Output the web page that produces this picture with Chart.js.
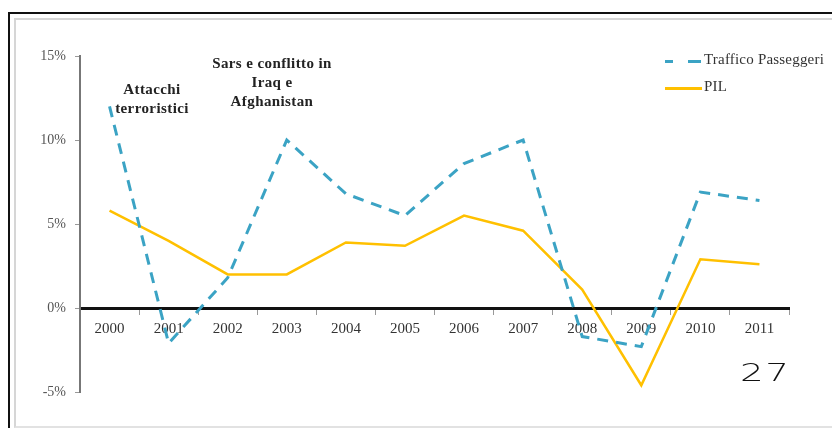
<!DOCTYPE html>
<html>
<head>
<meta charset="utf-8">
<script src="https://cdn.jsdelivr.net/npm/chart.js@4"></script>
<style>
  body { margin: 0; background: #fff; }
  #wrap { position: relative; width: 832px; height: 428px; overflow: hidden; }
  #outer { position: absolute; left: 8px; top: 12px; width: 900px; height: 500px;
           border-left: 2px solid #111; border-top: 2px solid #111; }
  #inner { position: absolute; left: 14px; top: 18px; width: 900px; height: 406px;
           border-left: 2px solid #d6d6d6; border-top: 2px solid #d6d6d6; border-bottom: 2px solid #e2e2e2; }
  #myChart { position: absolute; left: 0; top: 0; }
  .note { position: absolute; font-family: "Liberation Serif", serif; font-weight: bold;
          font-size: 15px; line-height: 19px; letter-spacing: 0.4px; color: #222; text-align: center; }
  .leg { position: absolute; font-family: "Liberation Serif", serif; font-size: 15px;
         letter-spacing: 0.2px; color: #333; }
  .mark { position: absolute; height: 0; }
  #pageNum { position: absolute; left: 740px; top: 359px; font-family: "DejaVu Sans", sans-serif;
             font-weight: 300; font-size: 24px; letter-spacing: 1px; color: #111;
             transform: scaleX(1.55); transform-origin: left top; }
</style>
</head>
<body>
<div id="wrap">
  <div id="outer"></div>
  <div id="inner"></div>
  <canvas id="myChart" width="832" height="428"></canvas>
  <div class="note" style="left:97px; top:80px; width:110px;">Attacchi<br>terroristici</div>
  <div class="note" style="left:197px; top:54px; width:150px;">Sars e conflitto in<br>Iraq e<br>Afghanistan</div>
  <div class="mark" style="left:665px; top:60px; width:8px; border-top:3px solid #3ba3c4;"></div>
  <div class="mark" style="left:688px; top:60px; width:13px; border-top:3px solid #3ba3c4;"></div>
  <div class="leg" style="left:704px; top:51px;">Traffico Passeggeri</div>
  <div class="mark" style="left:665px; top:87px; width:37px; border-top:3px solid #ffc000;"></div>
  <div class="leg" style="left:704px; top:78px;">PIL</div>
  <div id="pageNum">27</div>
</div>
<script>
// Years on the x axis
const years = ['2000', '2001', '2002', '2003', '2004', '2005', '2006', '2007', '2008', '2009', '2010', '2011'];

// Growth rates in %
const traffico = [12.0, -2.1, 1.8, 10.0, 6.8, 5.5, 8.6, 10.0, -1.7, -2.3, 6.9, 6.4];
const pil = [5.8, 4.0, 2.0, 2.0, 3.9, 3.7, 5.5, 4.6, 1.1, -4.6, 2.9, 2.6];

// Y axis ticks
const yTicks = [-5, 0, 5, 10, 15];

const ctx = document.getElementById('myChart').getContext('2d');
const chart = new Chart(ctx, {
    type: 'line',
    data: {
        labels: years,
        datasets: [{
            label: 'Traffico Passeggeri',
            data: traffico,
            borderColor: '#3ba3c4',
            borderWidth: 3,
            borderDash: [11, 8],
            pointRadius: 0,
            tension: 0,
            fill: false
        }, {
            label: 'PIL',
            data: pil,
            borderColor: '#ffc000',
            borderWidth: 2.5,
            pointRadius: 0,
            tension: 0,
            fill: false
        }]
    },
    options: {
        responsive: false,
        animation: false,
        layout: { padding: { top: 56, right: 43, bottom: 36, left: 0 } },
        plugins: {
            legend: { display: false },
            tooltip: { enabled: false }
        },
        scales: {
            x: {
                position: { y: 0 },
                offset: true,
                grid: {
                    offset: true,
                    drawOnChartArea: false,
                    tickLength: 5,
                    tickColor: '#999'
                },
                border: { color: '#111', width: 3 },
                ticks: {
                    color: '#333',
                    padding: 7,
                    font: { family: 'Liberation Serif', size: 15 }
                }
            },
            y: {
                min: -5,
                max: 15,
                afterFit: scale => { scale.width = 80; },
                afterBuildTicks: scale => { scale.ticks = yTicks.map(v => ({ value: v })); },
                grid: {
                    drawOnChartArea: false,
                    tickLength: 5,
                    tickColor: '#999'
                },
                border: { color: '#777', width: 2 },
                ticks: {
                    color: '#555',
                    padding: 9,
                    font: { family: 'Liberation Serif', size: 14 },
                    callback: v => v + '%'
                }
            }
        }
    }
});
</script>
</body>
</html>
